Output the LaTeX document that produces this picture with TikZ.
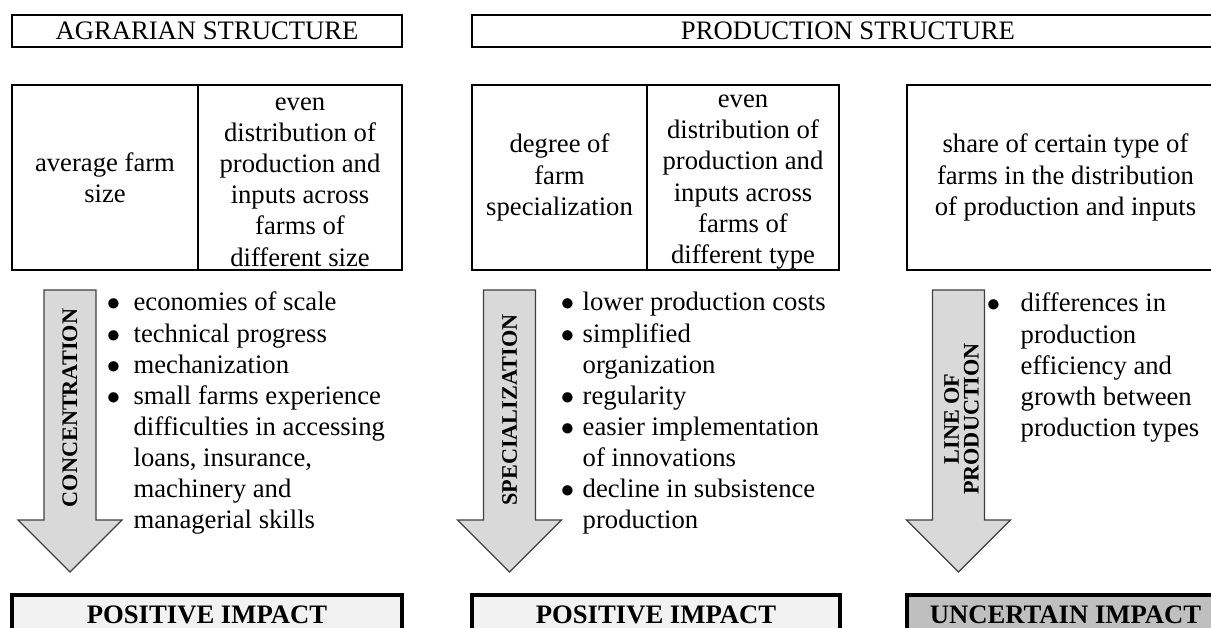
\documentclass[tikz,border=0pt]{standalone}
\usepackage{fontspec}
\setmainfont{Liberation Serif}
\usepackage{xcolor}

\definecolor{arrowgray}{HTML}{D9D9D9}
\definecolor{lightfill}{HTML}{F2F2F2}
\definecolor{darkfill}{HTML}{BFBFBF}
\newlength{\pu}
\setlength{\pu}{0.45pt}
\newcommand{\blt}{$\bullet$}

\begin{document}
\begin{tikzpicture}[x=0.45pt,y=-0.45pt]
\tikzset{every node/.style={font=\fontsize{12}{14}\selectfont}}
\tikzset{head/.style={draw,line width=0.9pt,inner sep=0pt,minimum height=32\pu}}
\tikzset{cell/.style={draw,line width=0.9pt,inner sep=0pt,align=center,minimum height=185\pu}}
\tikzset{impact/.style={draw,line width=1.8pt,inner xsep=0pt,inner ysep=3pt,text height=10pt,text depth=20pt,anchor=north,font=\fontsize{12}{14}\selectfont\bfseries}}
\tikzset{bigarrow/.style={draw=black!75,line width=0.5pt,fill=arrowgray}}
\tikzset{vlabel/.style={rotate=90,align=center,inner sep=0pt,font=\fontsize{10}{8.8}\selectfont\bfseries}}
\tikzset{blist/.style={anchor=base west,inner sep=0pt}}

\useasboundingbox (0,0) rectangle (1211,628);
\clip (0,0) rectangle (1211,628);

% headings
\node[head,minimum width=390\pu] (agrarian) at (207,31) {AGRARIAN STRUCTURE};
\node[head,minimum width=752\pu] (production) at (848,31) {PRODUCTION STRUCTURE};

% indicators
\node[cell,minimum width=186\pu] (farmsize) at (105,177.5) {average farm\\size};
\node[cell,minimum width=204\pu] (evensize) at (300,177.5) {\strut even\\distribution of\\production and\\inputs across\\farms of\\different size};
\node[cell,minimum width=175\pu] (specdegree) at (559.5,177.5) {degree of\\farm\\specialization};
\node[cell,minimum width=192\pu] (eventype) at (743,177.5) {\strut even\\distribution of\\production and\\inputs across\\farms of\\different type};
\node[cell,minimum width=317\pu] (typeshare) at (1065.5,177.5) {share of certain type of\\farms in the distribution\\of production and inputs};

% arrows
\foreach \cx in {70,509.5,958.5}
  \draw[bigarrow] (\cx-26,290) -- (\cx+26,290) -- (\cx+26,520) -- (\cx+52,520)
    -- (\cx,572) -- (\cx-52,520) -- (\cx-26,520) -- cycle;

\node[vlabel] (concentration) at (70,408) {CONCENTRATION};
\node[vlabel] (specialization) at (509.5,410) {SPECIALIZATION};
\node[vlabel] (lineofprod) at (961.5,419) {LINE OF\\PRODUCTION};

% reasons
\node[blist] (conclist) at (106.5,311) {\begin{tabular}[t]{@{}l@{\hspace{6pt}}l@{}}
\blt & economies of scale\\
\blt & technical progress\\
\blt & mechanization\\
\blt & small farms experience\\
 & difficulties in accessing\\
 & loans, insurance,\\
 & machinery and\\
 & managerial skills
\end{tabular}};
\node[blist] (speclist) at (560.5,311) {\begin{tabular}[t]{@{}l@{\hspace{3.8pt}}l@{}}
\blt & lower production costs\\
\blt & simplified\\
 & organization\\
\blt & regularity\\
\blt & easier implementation\\
 & of innovations\\
\blt & decline in subsistence\\
 & production
\end{tabular}};
\node[blist] (linelist) at (986.5,312) {\begin{tabular}[t]{@{}l@{\hspace{9.2pt}}l@{}}
\blt & differences in\\
 & production\\
 & efficiency and\\
 & growth between\\
 & production types
\end{tabular}};

% impact
\node[impact,fill=lightfill,minimum width=390\pu] (impactconc) at (207,593) {POSITIVE IMPACT};
\node[impact,fill=lightfill,minimum width=368\pu] (impactspec) at (656,593) {POSITIVE IMPACT};
\node[impact,fill=darkfill,minimum width=317\pu] (impactline) at (1065.5,593) {UNCERTAIN IMPACT};

\end{tikzpicture}
\end{document}
